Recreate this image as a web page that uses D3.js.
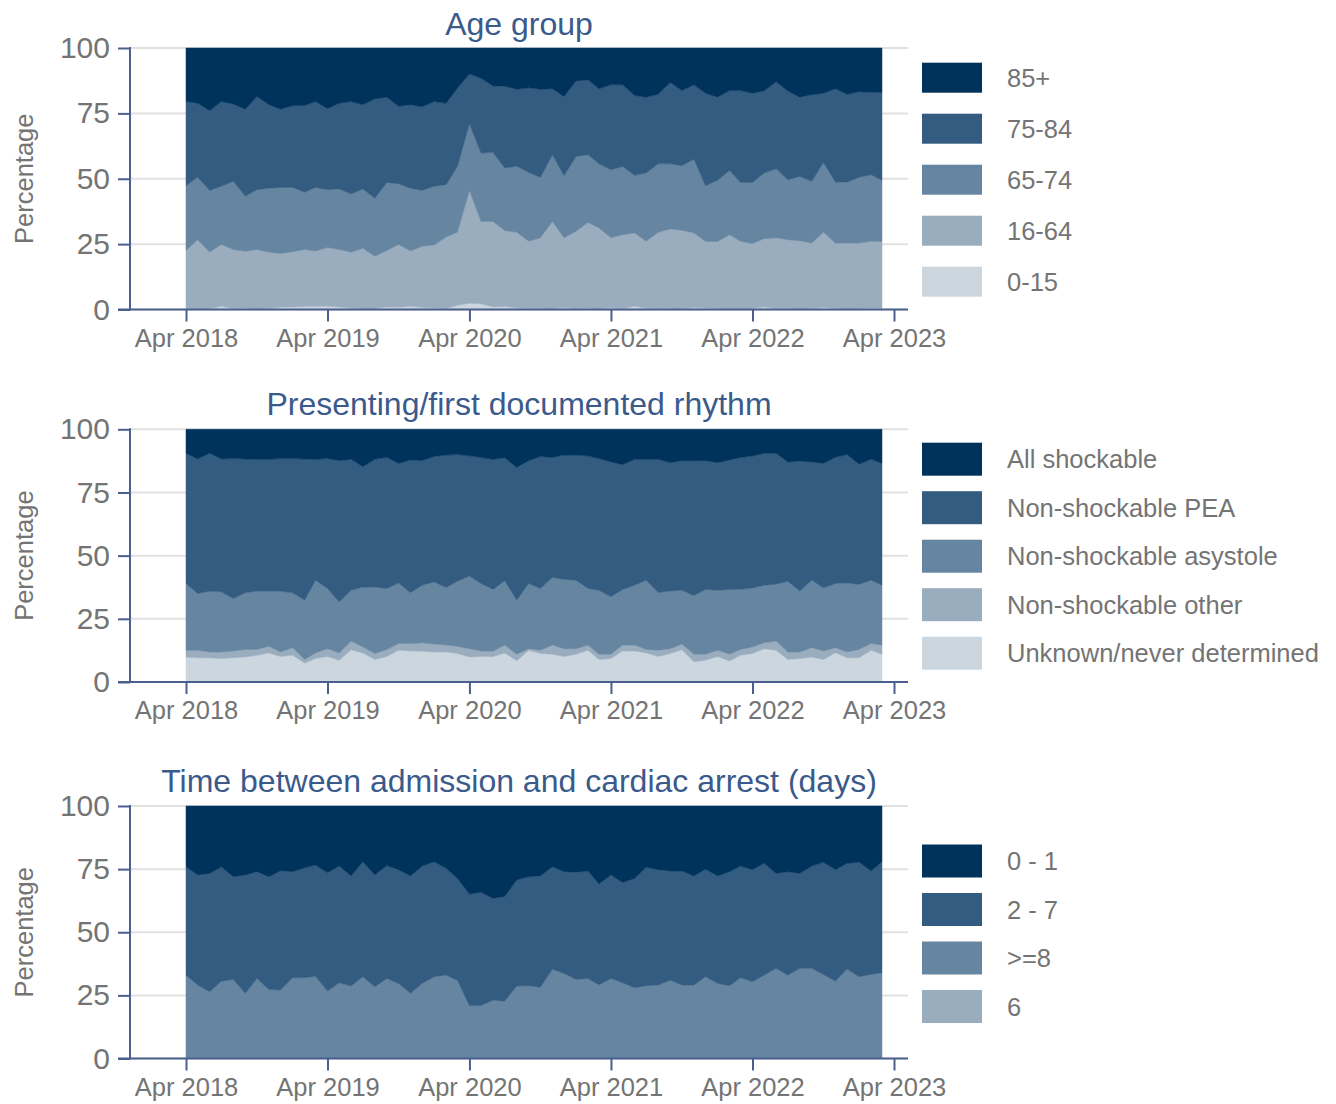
<!DOCTYPE html>
<html><head><meta charset="utf-8">
<script src="https://cdn.jsdelivr.net/npm/d3@7"></script>
<style>body{margin:0;background:#fff;font-family:"Liberation Sans",Arial,sans-serif;}</style>
</head><body>
<svg id="chart" width="1336" height="1104"></svg>
<script>
// ---------- categories ----------
const months = d3.timeMonth.range(new Date(2018, 3, 1), new Date(2023, 3, 1)); // Apr 2018 .. Mar 2023
const xTickLabels = ["Apr 2018","Apr 2019","Apr 2020","Apr 2021","Apr 2022","Apr 2023"];
const yTickValues = [0, 25, 50, 75, 100];

// ---------- Panel 1: Age group (% per month) ----------
const ageKeys = ["0-15","16-64","65-74","75-84","85+"];
const age_0_15 = [0.3,0.2,0.3,1.2,0.4,0.6,0.3,0.5,0.9,1.0,1.1,1.2,1.2,1.0,0.6,0.3,0.4,1.0,0.9,1.2,0.8,0.6,0.4,1.6,2.4,2.2,1.0,1.1,0.7,0.4,0.5,0.3,0.8,0.4,0.6,0.3,0.7,0.4,1.2,0.6,0.4,0.5,0.3,0.8,0.6,0.4,0.4,0.3,0.4,1.0,0.4,0.5,0.3,0.4,0.8,0.5,0.3,0.4,0.6,0.5];
const age_16_64 = [22.3,26.5,21.6,23.7,22.5,21.7,22.6,21.4,20.5,21.1,21.8,21.2,22.5,21.9,21.3,23.1,20.0,21.6,24.0,21.2,23.4,24.1,27.3,27.9,43.1,31.5,32.7,29.1,28.8,25.7,26.9,33.4,26.6,29.5,32.7,30.9,26.7,28.2,28.1,25.5,29.1,30.3,30.0,28.5,25.4,25.6,28.2,25.8,24.8,26.1,27.0,26.2,26.0,25.0,28.7,24.9,25.1,25.0,25.5,25.5];
const age_65_74 = [24.7,23.9,23.6,22.2,26.1,21.0,22.9,24.5,25.3,24.6,21.9,24.3,22.1,23.2,22.3,22.7,22.1,26.0,23.2,24.0,21.3,22.4,20.0,25.2,25.5,26.1,26.3,23.9,25.3,26.3,23.1,25.5,23.7,28.6,25.9,24.5,26.0,26.1,22.0,26.1,26.2,24.9,24.7,28.2,21.3,23.4,24.6,22.5,23.4,25.1,26.4,22.9,24.6,23.6,26.7,23.3,23.3,25.2,25.4,23.4];
const age_75_84 = [32.2,28.3,30.5,32.4,29.6,33.3,35.7,31.9,29.9,31.2,33.2,32.8,31.0,32.8,35.3,32.2,38.0,32.6,29.6,31.9,32.0,32.4,31.2,29.9,19.1,28.6,25.5,31.3,29.4,32.4,33.7,25.2,30.3,28.9,28.6,28.7,32.5,31.2,30.5,29.0,26.6,31.1,28.7,28.4,35.4,31.8,30.5,35.1,34.1,31.4,33.3,34.0,30.3,33.1,26.5,35.7,33.6,32.7,31.6,33.6];
const age_85plus = [20.5,21.1,24.0,20.5,21.4,23.4,18.5,21.7,23.4,22.1,22.0,20.5,23.2,21.1,20.5,21.7,19.5,18.8,22.3,21.7,22.5,20.5,21.1,15.4,9.9,11.6,14.5,14.6,15.8,15.2,15.8,15.6,18.6,12.6,12.2,15.6,14.1,14.1,18.2,18.8,17.7,13.2,16.3,14.1,17.3,18.8,16.3,16.3,17.3,16.4,12.9,16.4,18.8,17.9,17.3,15.6,17.7,16.7,16.9,17.0];

// ---------- Panel 2: Presenting / first documented rhythm ----------
const rhythmKeys = ["Unknown/never determined","Non-shockable other","Non-shockable asystole","Non-shockable PEA","All shockable"];
const rh_unknown = [9.9,9.6,9.6,9.3,9.6,9.9,10.6,11.5,10.1,10.6,7.5,9.3,10.1,8.6,12.8,11.5,8.9,10.1,12.6,12.3,12.2,11.9,11.9,11.3,9.9,10.1,10.1,11.5,8.4,12.6,11.3,11.0,10.1,11.0,12.6,8.9,9.3,12.3,12.3,11.5,10.1,11.3,12.8,8.0,8.6,10.1,8.3,10.6,11.3,13.2,12.6,8.9,9.3,9.9,8.9,11.6,9.6,9.6,12.6,11.0];
const rh_other = [2.7,3.0,2.3,2.6,2.7,3.0,2.3,2.6,1.8,3.0,1.4,2.2,3.1,2.9,3.4,2.4,2.4,2.8,2.6,2.9,3.3,3.1,2.7,2.8,3.3,2.2,2.1,3.1,2.6,0.6,1.3,3.6,3.1,2.2,2.0,2.1,1.7,2.3,2.3,1.4,2.5,1.9,2.2,3.0,2.4,2.5,2.7,2.3,2.6,2.3,3.6,3.0,2.6,3.7,3.4,2.0,2.3,3.3,2.6,3.6];
const rh_asystole = [26.4,22.4,24.0,23.8,20.7,22.4,23.1,21.9,24.0,21.7,23.5,28.8,23.8,20.2,20.1,23.7,26.3,24.1,24.0,20.1,22.8,24.6,22.8,25.8,28.7,26.7,24.4,25.5,21.4,25.8,24.4,26.8,27.4,27.1,22.4,25.3,22.7,22.0,23.7,27.4,22.8,22.8,21.3,23.2,25.6,23.7,25.6,23.8,23.3,22.8,22.5,28.0,24.1,26.7,24.9,25.4,27.3,25.7,25.1,23.7];
const rh_pea = [51.5,53.2,54.6,52.5,55.4,52.9,52.1,52.1,52.5,53.1,55.8,47.8,51.4,55.9,51.8,47.6,50.5,51.9,47.3,52.6,49.3,49.6,52.4,50.1,47.6,49.8,51.5,48.6,52.5,48.6,52.2,47.4,49.2,49.5,52.4,52.1,53.4,49.4,49.8,47.8,52.7,50.8,51.3,53.4,51.0,50.5,51.3,52.1,52.2,52.2,51.8,47.2,51.4,46.8,49.3,49.9,50.8,47.6,47.8,48.2];
const rh_shockable = [9.5,11.8,9.5,11.8,11.6,11.8,11.9,11.9,11.6,11.6,11.8,11.9,11.6,12.4,11.9,14.8,11.9,11.1,13.5,12.1,12.4,10.8,10.2,10.0,10.5,11.2,11.9,11.3,15.1,12.4,10.8,11.2,10.2,10.2,10.6,11.6,12.9,14.0,11.9,11.9,11.9,13.2,12.4,12.4,12.4,13.2,12.1,11.2,10.6,9.5,9.5,12.9,12.6,12.9,13.5,11.1,10.0,13.8,11.9,13.5];

// ---------- Panel 3: Time between admission and cardiac arrest (days) ----------
const timeKeys = ["6",">=8","2 - 7","0 - 1"];
const t_6 = [0,0,0,0,0,0,0,0,0,0,0,0,0,0,0,0,0,0,0,0,0,0,0,0,0,0,0,0,0,0,0,0,0,0,0,0,0,0,0,0,0,0,0,0,0,0,0,0,0,0,0,0,0,0,0,0,0,0,0,0];
const t_ge8 = [33.0,29.1,26.4,30.6,31.3,25.8,31.7,27.3,27.1,32.0,32.0,32.6,26.7,30.0,28.7,32.4,28.4,31.7,29.7,25.8,29.7,32.4,33.0,31.0,20.9,21.0,23.1,22.7,28.7,28.8,28.2,35.3,33.7,31.3,31.7,29.1,31.7,30.0,28.0,28.8,29.1,31.0,29.1,29.1,32.4,29.7,28.8,32.0,30.4,33.0,35.7,33.0,35.7,35.7,33.3,30.6,35.4,32.4,33.3,34.0];
const t_2_7 = [42.9,43.6,46.9,45.3,40.7,46.9,42.3,44.7,47.3,42.0,43.5,44.0,46.9,46.2,43.6,45.5,44.3,44.7,45.1,46.5,46.5,45.5,42.3,40.3,44.2,44.8,40.3,41.5,42.0,43.2,44.1,40.6,40.3,42.5,42.6,40.0,41.0,39.7,43.3,46.9,45.7,43.3,45.2,43.2,42.6,42.6,45.2,44.2,44.4,44.3,37.6,41.0,37.6,40.5,44.4,44.2,41.9,45.3,41.0,43.9];
const t_0_1 = [24.1,27.3,26.7,24.1,28.0,27.3,26.0,28.0,25.6,26.0,24.5,23.4,26.4,23.8,27.7,22.1,27.3,23.6,25.2,27.7,23.8,22.1,24.7,28.7,34.9,34.2,36.6,35.8,29.3,28.0,27.7,24.1,26.0,26.2,25.7,30.9,27.3,30.3,28.7,24.3,25.2,25.7,25.7,27.7,25.0,27.7,26.0,23.8,25.2,22.7,26.7,26.0,26.7,23.8,22.3,25.2,22.7,22.3,25.7,22.1];

// ---------- styling ----------
const colors = ["#ccd6df","#99adbf","#6685a0","#335c80","#00335c"]; // lightest -> darkest
const axisColor = "#4a5f8e";
const gridColor = "#e1e1e1";
const textGrey = "#747474";
const titleColor = "#3b5a8c";

const panels = [
  {title:"Age group", keys:ageKeys, series:[age_0_15,age_16_64,age_65_74,age_75_84,age_85plus],
   top:48, bottom:309.5, titleY:35, legendTop:62.7, swH:30, swGap:51},
  {title:"Presenting/first documented rhythm", keys:rhythmKeys, series:[rh_unknown,rh_other,rh_asystole,rh_pea,rh_shockable],
   top:429.3, bottom:682, titleY:415, legendTop:442.7, swH:33, swGap:48.5},
  {title:"Time between admission and cardiac arrest (days)", keys:timeKeys, series:[t_6,t_ge8,t_2_7,t_0_1],
   top:806, bottom:1058.5, titleY:792, legendTop:844.5, swH:33, swGap:48.5}
];

const svg = d3.select("#chart");
const x = d3.scaleTime().domain([new Date(2018,3,1), new Date(2023,3,1)]).range([186, 894]);
const xTicks = d3.range(6).map(k => new Date(2018 + k, 3, 1));
const fontFam = '"Liberation Sans", Arial, sans-serif';

panels.forEach(p => {
  const g = svg.append("g");
  const y = d3.scaleLinear().domain([0,100]).range([p.bottom, p.top]);
  const nK = p.keys.length;
  const rows = months.map((m,i) => {
    const r = {date:m};
    p.keys.forEach((k,j) => r[k] = p.series[j][i]);
    return r;
  });
  const stacked = d3.stack().keys(p.keys)(rows);
  // 5-series panels use all shades; 4-series panel skips the lightest
  const colFor = j => nK === 5 ? colors[j] : colors[j + 1];

  // gridlines
  g.selectAll("line.grid").data(yTickValues).join("line")
    .attr("x1",130).attr("x2",908).attr("y1",d=>y(d)).attr("y2",d=>y(d))
    .attr("stroke",gridColor).attr("stroke-width",2);

  // areas
  const area = d3.area().x(d=>x(d.data.date)).y0(d=>y(d[0])).y1(d=>y(d[1])).curve(d3.curveLinear);
  g.selectAll("path.layer").data(stacked).join("path")
    .attr("d",area).attr("fill",(d,j)=>colFor(j)).attr("stroke",(d,j)=>colFor(j)).attr("stroke-width",0.5);

  // y axis
  const yAxis = d3.axisLeft(y).tickValues(yTickValues).tickSize(12).tickPadding(8);
  const ya = g.append("g").attr("transform","translate(130,0)").call(yAxis);
  ya.select(".domain").remove();
  ya.selectAll(".tick line").attr("stroke",axisColor).attr("stroke-width",2);
  ya.selectAll(".tick text").attr("fill",textGrey).style("font-size","30px").style("font-family",fontFam);
  g.append("line").attr("x1",130).attr("x2",130).attr("y1",p.top-1).attr("y2",p.bottom+1)
    .attr("stroke",axisColor).attr("stroke-width",2);

  // x axis
  const xAxis = d3.axisBottom(x).tickValues(xTicks).tickSize(12).tickPadding(8)
    .tickFormat((d,i)=>xTickLabels[i]);
  const xa = g.append("g").attr("transform",`translate(0,${p.bottom})`).call(xAxis);
  xa.select(".domain").remove();
  xa.selectAll(".tick line").attr("stroke",axisColor).attr("stroke-width",2);
  xa.selectAll(".tick text").attr("fill",textGrey).style("font-size","25.5px").style("font-family",fontFam)
    .attr("dy",null).attr("y",37);
  g.append("line").attr("x1",118).attr("x2",908).attr("y1",p.bottom).attr("y2",p.bottom)
    .attr("stroke",axisColor).attr("stroke-width",2);

  // y label
  g.append("text").attr("transform",`translate(33,${(p.top+p.bottom)/2}) rotate(-90)`)
    .attr("text-anchor","middle").attr("fill",textGrey).style("font-size","25.5px").style("font-family",fontFam)
    .text("Percentage");

  // title
  g.append("text").attr("x",519).attr("y",p.titleY).attr("text-anchor","middle")
    .attr("fill",titleColor).style("font-size","32px").style("font-family",fontFam).text(p.title);

  // legend (top = darkest/last key)
  const legendItems = p.keys.map((k,j)=>({k, c:colFor(j)})).reverse();
  const lg = g.append("g");
  legendItems.forEach((it,r) => {
    const ty = p.legendTop + r*p.swGap;
    lg.append("rect").attr("x",922).attr("y",ty).attr("width",60).attr("height",p.swH).attr("fill",it.c);
    lg.append("text").attr("x",1007).attr("y",ty + p.swH/2).attr("dominant-baseline","central")
      .attr("fill",textGrey).style("font-size","25.5px").style("font-family",fontFam).text(it.k);
  });
});
</script>
</body></html>
